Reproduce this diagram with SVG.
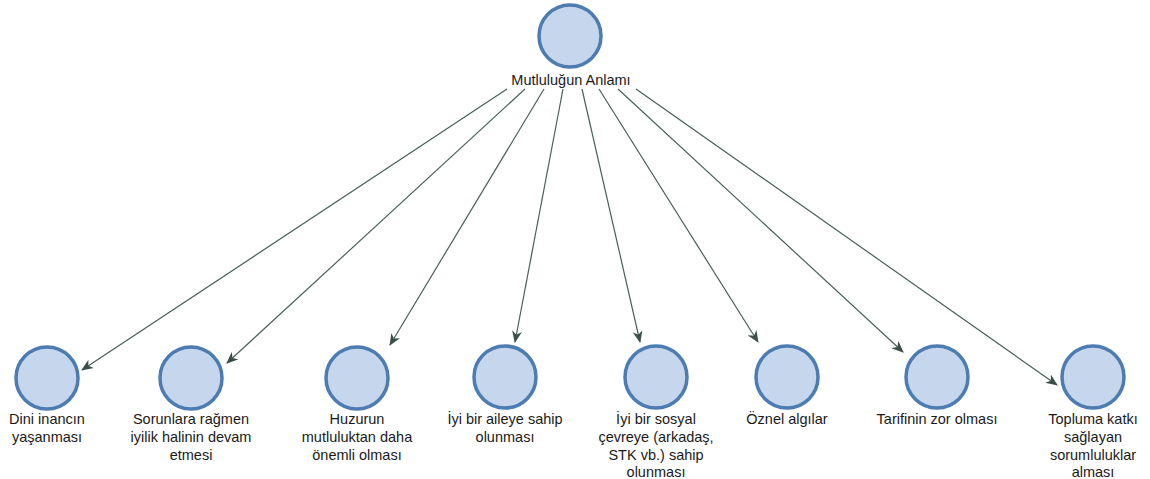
<svg xmlns="http://www.w3.org/2000/svg" width="1150" height="479" viewBox="0 0 1150 479">
<style>
.node circle{fill:#c6d7ed;stroke:#4c7cb2;stroke-width:3.5}
.node text{font-family:"Liberation Sans",Arial,sans-serif;font-size:14.5px;fill:#1a1a1a;text-anchor:middle}
.edges line{stroke:#4a5f58;stroke-width:1.2;marker-end:url(#arr)}
</style>
<defs>
<marker id="arr" viewBox="0 0 12 10" refX="11" refY="5" markerWidth="12" markerHeight="10" markerUnits="userSpaceOnUse" orient="auto">
<path d="M0,0 L12,5 L0,10 L3.5,5 z" fill="#3b4f48"/>
</marker>
</defs>
<rect width="1150" height="479" fill="#ffffff"/>
<g class="edges">
<line x1="507" y1="89" x2="82" y2="370"/>
<line x1="525" y1="89" x2="227" y2="363"/>
<line x1="544" y1="89" x2="390" y2="345"/>
<line x1="563" y1="89" x2="515" y2="342"/>
<line x1="582" y1="89" x2="640" y2="342"/>
<line x1="599" y1="89" x2="758" y2="342"/>
<line x1="618" y1="89" x2="903" y2="352"/>
<line x1="636" y1="89" x2="1057" y2="385"/>
</g>
<g id="n0" class="node"><circle cx="570" cy="36" r="31"/><text x="571" y="85">Mutluluğun Anlamı</text></g>
<g id="n1" class="node"><circle cx="47" cy="378" r="31"/><text x="47" y="424">Dini inancın</text><text x="47" y="442">yaşanması</text></g>
<g id="n2" class="node"><circle cx="191" cy="378" r="31"/><text x="191" y="424">Sorunlara rağmen</text><text x="191" y="442">iyilik halinin devam</text><text x="191" y="460">etmesi</text></g>
<g id="n3" class="node"><circle cx="357" cy="378" r="31"/><text x="357" y="424">Huzurun</text><text x="357" y="442">mutluluktan daha</text><text x="357" y="460">önemli olması</text></g>
<g id="n4" class="node"><circle cx="505" cy="377" r="31"/><text x="505" y="424">İyi bir aileye sahip</text><text x="505" y="442">olunması</text></g>
<g id="n5" class="node"><circle cx="656" cy="377" r="31"/><text x="656" y="424">İyi bir sosyal</text><text x="656" y="442">çevreye (arkadaş,</text><text x="656" y="460">STK vb.) sahip</text><text x="656" y="477">olunması</text></g>
<g id="n6" class="node"><circle cx="787" cy="377" r="31"/><text x="787" y="424">Öznel algılar</text></g>
<g id="n7" class="node"><circle cx="937" cy="377" r="31"/><text x="937" y="424">Tarifinin zor olması</text></g>
<g id="n8" class="node"><circle cx="1093" cy="377" r="31"/><text x="1093" y="424">Topluma katkı</text><text x="1093" y="442">sağlayan</text><text x="1093" y="460">sorumluluklar</text><text x="1093" y="477">alması</text></g>
</svg>
